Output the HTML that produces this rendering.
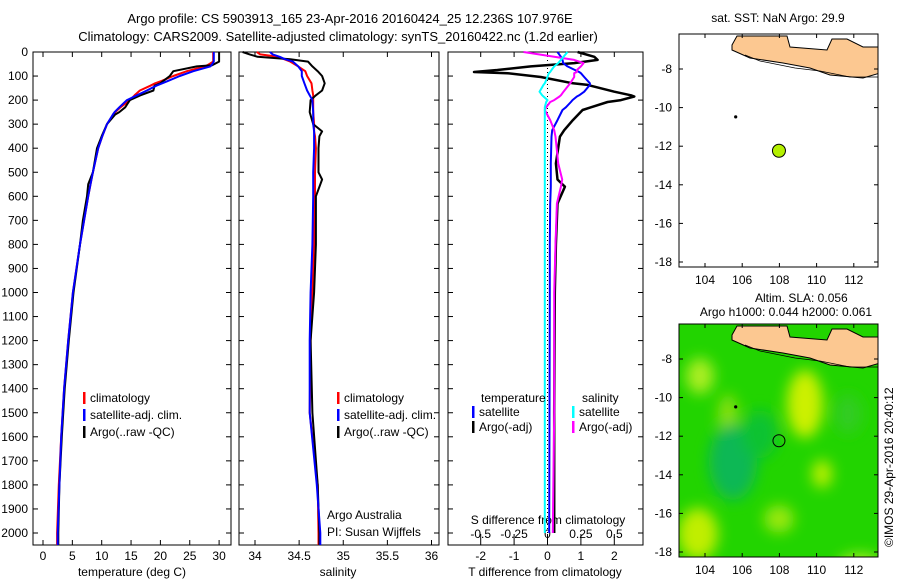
<!DOCTYPE html>
<html><head><meta charset="utf-8"><style>
html,body{margin:0;padding:0;background:#fff;}
svg{display:block;font-family:"Liberation Sans",sans-serif;}
</style></head><body>
<svg id="fig" width="900" height="580" viewBox="0 0 900 580" xmlns="http://www.w3.org/2000/svg">
<text x="350" y="23" font-size="13" text-anchor="middle">Argo profile: CS 5903913_165 23-Apr-2016 20160424_25 12.236S 107.976E</text>
<text x="338" y="41" font-size="13" text-anchor="middle">Climatology: CARS2009. Satellite-adjusted climatology: synTS_20160422.nc (1.2d earlier)</text>
<g id="p1"></g>
<g id="p2"></g>
<g id="p3"></g>
<g id="m1"></g>
<g id="m2"></g>
<text transform="translate(893,547) rotate(-90)" font-size="12">©IMOS 29-Apr-2016 20:40:12</text>
</svg>
<script>
// ---- data ----
const depthT=[0,40,55,60,80,100,120,130,140,160,180,200,230,250,260,300,350,400,500,550,600,700,800,1000,1200,1400,1600,1800,2000,2050];
const climT=[29,29,28,27.6,24.5,22.2,20.2,19.1,18.3,16.5,15.6,14.8,13.2,12.3,12,10.9,10.1,9.4,8.5,8.1,7.7,7,6.3,5.1,4.3,3.6,3.1,2.7,2.4,2.4];
const satT=[29.1,29.1,28.7,28.5,25.6,23.3,21.3,20.3,19.3,17.7,16,14.3,13,12.2,11.9,10.9,10.1,9.4,8.5,8.1,7.7,7,6.3,5.1,4.3,3.6,3.1,2.8,2.5,2.5];
const argoT=[30,30,28.8,26.2,22.2,21.6,20.5,20,19,18.8,16.6,14.8,14,13,12.3,10.9,10,9.2,8.5,7.7,7.5,6.8,6.3,5.2,4.4,3.7,3.2,2.8,2.6,2.6];
const depthS=[0,10,20,30,40,60,80,100,130,160,180,200,250,300,330,350,400,500,530,600,800,1000,1200,1500,1800,2000,2050];
const climS=[34.02,34.06,34.26,34.33,34.4,34.49,34.57,34.59,34.64,34.65,34.66,34.66,34.66,34.67,34.67,34.68,34.69,34.68,34.68,34.68,34.67,34.65,34.63,34.62,34.71,34.72,34.72];
const satS=[34.17,34.2,34.28,34.34,34.43,34.49,34.53,34.53,34.56,34.59,34.62,34.65,34.66,34.66,34.67,34.67,34.67,34.66,34.66,34.66,34.65,34.63,34.62,34.62,34.7,34.74,34.74];
const argoS=[33.86,33.94,34.03,34.4,34.6,34.65,34.71,34.76,34.79,34.76,34.69,34.63,34.62,34.66,34.76,34.73,34.72,34.72,34.76,34.69,34.69,34.67,34.63,34.65,34.71,34.73,34.73];
const depthD=[0,20,33,46,60,75,83,88,104,130,137,165,180,185,200,208,230,241,283,325,352,463,530,560,630,800,1000,1500,2000];
const argoDT=[0.9,1.4,1.5,0.8,-0.5,-1.5,-2.2,-1.2,-0.2,0.76,1.2,2.0,2.5,2.6,2.2,1.8,1.3,1.05,0.76,0.5,0.37,0.25,0.3,0.52,0.3,0.25,0.22,0.2,0.2];
const satDT=[0.3,0.4,0.45,0.47,0.6,0.82,0.95,1.0,1.1,1.27,1.27,1.1,0.95,0.88,0.75,0.7,0.55,0.45,0.3,0.14,0.12,0.1,0.1,0.1,0.08,0.07,0.07,0.06,0.05];
const satDS=[0.15,0.12,0.1,0.08,0.05,0.03,0.02,0.01,0.0,-0.02,-0.03,-0.06,-0.04,-0.03,0.0,-0.01,-0.02,-0.02,-0.02,-0.02,-0.02,-0.02,-0.02,-0.02,-0.02,-0.02,-0.02,-0.02,-0.02];
const argoDS=[-0.18,0.05,0.2,0.27,0.25,0.22,0.22,0.2,0.2,0.17,0.16,0.12,0.1,0.09,0.05,0.02,-0.01,-0.02,0.02,0.05,0.06,0.08,0.11,0.1,0.07,0.06,0.05,0.05,0.04];
const depthTicks=[0,100,200,300,400,500,600,700,800,900,1000,1100,1200,1300,1400,1500,1600,1700,1800,1900,2000];
const tTicks=[0,5,10,15,20,25,30];
const sTicks=[34,34.5,35,35.5,36];
const sTickLabels=["34","34.5","35","35.5","36"];
const dtTicks=[-2,-1,0,1,2];
const dsTicks=[-0.5,-0.25,0,0.25,0.5];
const lonTicks=[104,106,108,110,112];
const latTicks=[-8,-10,-12,-14,-16,-18];
const argoLon=107.976, argoLat=-12.236;

const NS="http://www.w3.org/2000/svg";
function mk(parent,tag,attrs){const e=document.createElementNS(NS,tag);for(const k in attrs)e.setAttribute(k,attrs[k]);parent.appendChild(e);return e;}
const yD=d=>52+d*0.2405;
const T0=52,B0=545;
function panelBox(g,x0,x1){mk(g,'rect',{x:x0,y:T0,width:x1-x0,height:B0-T0,fill:'none',stroke:'#000','stroke-width':1});}
function line(g,xs,ds,xf,color,w,name){
  const pts=xs.map((v,i)=>xf(v).toFixed(1)+','+yD(ds[i]).toFixed(1)).join(' ');
  const p=mk(g,'polyline',{points:pts,fill:'none',stroke:color,'stroke-width':w,'stroke-linejoin':'round'});
  
  
}
function txt(g,x,y,s,size,anchor,name){const t=mk(g,'text',{x:x,y:y,'font-size':size,'text-anchor':anchor||'start'});t.textContent=s;return t;}
function depthTickMarks(g,x0,x1,labels){
  depthTicks.forEach(d=>{const y=yD(d);
    mk(g,'line',{x1:x0,y1:y,x2:x0+5,y2:y,stroke:'#000'});
    mk(g,'line',{x1:x1,y1:y,x2:x1-5,y2:y,stroke:'#000'});
    if(labels) txt(g,28,y+4,String(d),12,'end','depth-tick-label');
  });
}
function legendEntry(g,x,y,color,label){
  mk(g,'rect',{x:x,y:y-10,width:2.5,height:12,fill:color});
  txt(g,x+7,y,label,12,'start','legend-entry');
}

// Panel 1
const p1=document.getElementById('p1');
const xT=t=>43+t*5.87;
panelBox(p1,33,231);depthTickMarks(p1,33,231,true);
tTicks.forEach(t=>{const x=xT(t);mk(p1,'line',{x1:x,y1:B0,x2:x,y2:B0-5,stroke:'#000'});mk(p1,'line',{x1:x,y1:T0,x2:x,y2:T0+5,stroke:'#000'});txt(p1,x,560,String(t),12,'middle','temp-tick-label');});
txt(p1,132,576,'temperature (deg C)',12,'middle','x-axis-title-temperature');
line(p1,climT,depthT,xT,'#f00',2,'climatology-temp-line');
line(p1,argoT,depthT,xT,'#000',2,'argo-temp-line');
line(p1,satT,depthT,xT,'#00f',2,'satellite-temp-line');
legendEntry(p1,83,402,'#f00','climatology');
legendEntry(p1,83,419,'#00f','satellite-adj. clim.');
legendEntry(p1,83,436,'#000','Argo(..raw -QC)');

// Panel 2
const p2=document.getElementById('p2');
const xS=s=>255+(s-34)*88.25;
panelBox(p2,239,439);depthTickMarks(p2,239,439,false);
sTicks.forEach((s,i)=>{const x=xS(s);mk(p2,'line',{x1:x,y1:B0,x2:x,y2:B0-5,stroke:'#000'});mk(p2,'line',{x1:x,y1:T0,x2:x,y2:T0+5,stroke:'#000'});txt(p2,x,560,sTickLabels[i],12,'middle','sal-tick-label');});
txt(p2,338,576,'salinity',12,'middle','x-axis-title-salinity');
line(p2,climS,depthS,xS,'#f00',2,'climatology-sal-line');
line(p2,argoS,depthS,xS,'#000',2,'argo-sal-line');
line(p2,satS,depthS,xS,'#00f',2,'satellite-sal-line');
legendEntry(p2,337,402,'#f00','climatology');
legendEntry(p2,337,419,'#00f','satellite-adj. clim.');
legendEntry(p2,337,436,'#000','Argo(..raw -QC)');
txt(p2,327,519,'Argo Australia',12,'start','credit-argo-australia');
txt(p2,327,536,'PI: Susan Wijffels',12,'start','credit-pi');

// Panel 3
const p3=document.getElementById('p3');
const xDT=v=>547.5+v*33.4;
const xDS=v=>547.5+v*133.6;
panelBox(p3,448,643);depthTickMarks(p3,448,643,false);
dtTicks.forEach(t=>{const x=xDT(t);mk(p3,'line',{x1:x,y1:B0,x2:x,y2:B0-5,stroke:'#000'});mk(p3,'line',{x1:x,y1:T0,x2:x,y2:T0+5,stroke:'#000'});txt(p3,x,560,String(t),12,'middle','dt-tick-label');});
dsTicks.forEach(t=>{const x=xDS(t);mk(p3,'line',{x1:x,y1:B0-5,x2:x,y2:B0-11,stroke:'#000'});txt(p3,x,538,String(t),12,'middle','ds-tick-label');});
mk(p3,'line',{x1:xDT(0),y1:T0,x2:xDT(0),y2:B0,stroke:'#000','stroke-dasharray':'1,3'});
txt(p3,548,524,'S difference from climatology',12,'middle','s-diff-axis-title');
txt(p3,545,576,'T difference from climatology',12,'middle','t-diff-axis-title');
line(p3,argoDT,depthD,xDT,'#000',2.5,'argo-temp-diff-line');
line(p3,satDT,depthD,xDT,'#00f',2,'satellite-temp-diff-line');
line(p3,argoDS,depthD,xDS,'#f0f',2,'argo-sal-diff-line');
line(p3,satDS,depthD,xDS,'#0ff',2,'satellite-sal-diff-line');
txt(p3,481,402,'temperature',12,'start','legend-title-temperature');
txt(p3,582,402,'salinity',12,'start','legend-title-salinity');
legendEntry(p3,472,416,'#00f','satellite');
legendEntry(p3,472,431,'#000','Argo(-adj)');
legendEntry(p3,572,416,'#0ff','satellite');
legendEntry(p3,572,431,'#f0f','Argo(-adj)');

// Maps
function drawMap(g,top,sla){
  const L=679,R=878,B=top+233;
  const lx=lon=>705+(lon-104)*18.6;
  const ly=lat=>top+35+(-8-lat)*19.3;
  const cid='clip'+top;
  const defs=mk(g,'defs',{});
  const cp=mk(defs,'clipPath',{id:cid});mk(cp,'rect',{x:L,y:top,width:R-L,height:B-top});
  if(sla){
    const f=mk(defs,'filter',{id:'blur',x:'-50%',y:'-50%',width:'200%',height:'200%'});
    mk(f,'feGaussianBlur',{stdDeviation:7});
    const cg=mk(g,'g',{'clip-path':'url(#'+cid+')'});
    mk(cg,'rect',{x:L,y:top,width:R-L,height:B-top,fill:'#22d400'});
    const bg=mk(cg,'g',{filter:'url(#blur)'});
    [[700,52,14,18,'#aaee22'],[805,80,18,34,'#ccf000'],[728,92,10,22,'#88e011'],[733,138,24,38,'#11b855'],[760,110,18,24,'#0fc230'],[822,150,10,14,'#bbf000'],[698,210,20,26,'#c0ee00'],[779,195,15,14,'#99e811'],[860,242,22,12,'#aaee22'],[685,262,10,14,'#11b050'],[745,260,14,10,'#99e615'],[848,90,14,20,'#33cc22']]
      .forEach(b=>mk(bg,'ellipse',{cx:b[0],cy:top+b[1],rx:b[2],ry:b[3],fill:b[4]}));
  }
  const cg2=mk(g,'g',{'clip-path':'url(#'+cid+')'});
  const land=[[732,45],[737,36],[787,36],[790,47],[827,50],[832,39],[847,39],[863,47],[880,47],[880,73],[863,78],[830,75],[810,68],[783,63],[750,58],[732,50]];
  const poly=mk(cg2,'polygon',{points:land.map(p=>p[0]+','+(p[1]-34+top)).join(' '),fill:'#fcc891',stroke:'#000','stroke-width':1});
  
  
  mk(cg2,'polyline',{points:[[745,55],[760,61],[795,68],[820,71],[850,77],[880,77]].map(p=>p[0]+','+(p[1]-34+top)).join(' '),fill:'none',stroke:'#000','stroke-width':0.8});
  mk(g,'circle',{cx:lx(105.65),cy:ly(-10.48),r:1.6,fill:'#000'});
  const dot=mk(g,'circle',{cx:lx(argoLon),cy:ly(argoLat),r:sla?6:6.5,fill:sla?'none':'#b4f000',stroke:'#000','stroke-width':1});
  
  
  mk(g,'rect',{x:L,y:top,width:R-L,height:B-top,fill:'none',stroke:'#000'});
  lonTicks.forEach(v=>{const x=lx(v);mk(g,'line',{x1:x,y1:B,x2:x,y2:B-4,stroke:'#000'});mk(g,'line',{x1:x,y1:top,x2:x,y2:top+4,stroke:'#000'});txt(g,x,B+17,String(v),12,'middle','lon-tick-label');});
  latTicks.forEach(v=>{const y=ly(v);mk(g,'line',{x1:L,y1:y,x2:L+4,y2:y,stroke:'#000'});mk(g,'line',{x1:R,y1:y,x2:R-4,y2:y,stroke:'#000'});txt(g,672,y+4,String(v),12,'end','lat-tick-label');});
}
const m1=document.getElementById('m1');
txt(m1,778,22,'sat. SST: NaN Argo: 29.9',12,'middle','sst-map-title');
drawMap(m1,34,false);
const m2=document.getElementById('m2');
txt(m2,755,302,'Altim. SLA: 0.056',12,'start','sla-map-title');
txt(m2,786,316,'Argo h1000: 0.044 h2000: 0.061',12,'middle','sla-map-subtitle');
drawMap(m2,324,true);
</script>
</body></html>
